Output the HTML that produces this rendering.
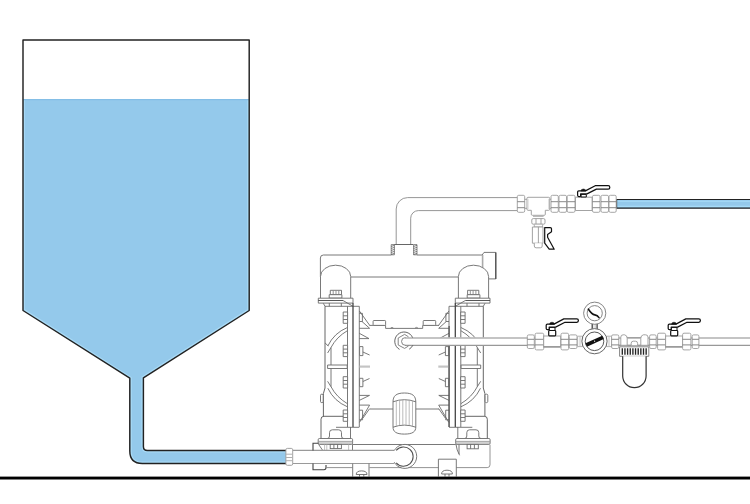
<!DOCTYPE html>
<html><head><meta charset="utf-8"><title>Diaphragm pump installation</title>
<style>
html,body{margin:0;padding:0;background:#fff;width:750px;height:504px;overflow:hidden;}
svg{display:block;}
</style></head><body>
<svg width="750" height="504" viewBox="0 0 750 504">
<defs>
  <g id="handle">
    <path d="M3.2,5.6 H1.2 Q0,5.6 0,4.4 V1.2 Q0,0 1.2,0 H7.8 L17.6,-5.2 H30.6 Q32.2,-5.2 32.2,-3.5 Q32.2,-1.8 30.6,-1.8 H18.8 L9.4,3 H3 V5.6" fill="#fff" stroke="#111" stroke-width="1.25" stroke-linejoin="round"/>
    <path d="M3.4,0.2 Q3.4,-1.9 5.8,-1.9 Q8.2,-1.9 8.2,0.2 Z" fill="#111" stroke="#111" stroke-width="0.5"/>
  </g>
  <!-- small bolt on the chamber strip (vertical) -->
  <g id="sbolt">
    <rect x="0" y="0" width="4.4" height="11.3" fill="#fff"/>
    <path d="M0,3.8 H4.4 M0,7.5 H4.4"/>
  </g>
  <g id="dome" fill="none" stroke="#6a6a6a" stroke-width="0.9" stroke-linejoin="round">
    <path d="M320.5,298.2 V276.5 A15.1,11.3 0 0 1 350.7,276.5 V298.2" fill="#fff"/>
    <rect x="330.3" y="290.3" width="11.2" height="4.4" fill="#fff"/>
    <path d="M333.2,290.3 V294.7 M336,290.3 V294.7 M338.8,290.3 V294.7" stroke="#888"/>
    <rect x="329.2" y="294.7" width="12.7" height="3.4" fill="#fff"/>
  </g>
  <!-- left pump chamber (mirrored for right) -->
  <g id="chamber" fill="none" stroke="#6a6a6a" stroke-width="0.9" stroke-linejoin="round">
    <!-- upper flange -->
    <rect x="318.3" y="298.2" width="34.7" height="4.9" fill="#fff"/>
    <path d="M318.3,300.5 H343" stroke="#444"/>
    <path d="M343,300.5 L353,306.3"/>
    <path d="M323.3,303.3 L325,306.3 H359.3 M329.3,303.1 V306.3 M341.3,303.1 V306.3"/>
    <!-- chamber body -->
    <path d="M325,306.3 V388 L323.4,393.5 V416.5" stroke="#555"/>
    <path d="M347.5,306.3 V427"/>
    <path d="M359.3,306.3 V427"/>
    <path d="M353,303.1 V427" stroke="#444" stroke-width="1.3"/>
    <!-- bolts on strip -->
    <use href="#sbolt" x="343.2" y="312"/>
    <use href="#sbolt" x="343.2" y="345.3"/>
    <use href="#sbolt" x="343.2" y="376.7"/>
    <use href="#sbolt" x="343.2" y="410"/>
    <!-- diaphragm arcs -->
    <path d="M347.4,327.5 Q334,333 327.8,346"/>
    <path d="M347.4,330.7 Q336.5,337 331,347.5 L327.6,353"/>
    <path d="M325.1,343 L328.3,346"/>
    <path d="M331,347.5 V386.7"/>
    <path d="M327.6,381.3 L331,386.7 Q336.5,397.2 347.4,403.7"/>
    <path d="M327.8,388.2 Q334,401.2 347.4,406.8"/>
    <!-- rod -->
    <rect x="327.6" y="365" width="19.6" height="3.5" fill="#fff"/>
    <!-- small pill -->
    <rect x="320.5" y="394.2" width="2.7" height="8.4" rx="1.2" fill="#fff"/>
    <!-- foot -->
    <path d="M321,438.5 V419.2 Q321,416.3 323.9,416.3 H343.2" stroke="#555"/>
    <path d="M336,427.3 H359.3"/>
    <path d="M350.5,427 V438.5"/>
    <path d="M327.3,438.5 Q329.5,438.5 329.5,436 V432.6 Q329.5,429.8 332.3,429.8 H338.7 Q341.5,429.8 341.5,432.6 V436 Q341.5,438.5 343.7,438.5"/>
    <!-- lower flange -->
    <rect x="318.2" y="438.5" width="34.4" height="5.9" rx="1.2" fill="#fff"/>
    <path d="M318.2,441.4 H352.6 M318.2,443 H352.6" stroke="#999"/>
    <!-- fins -->
    <path d="M359.4,311 L369.8,325.5 M359.3,328.3 H369.6 L362,321.5 M359.3,313.3 H362.4 V321.5 H359.3"/>
    <path d="M359.3,333.3 L369,338.6 H359.3"/>
    <rect x="359.6" y="346.6" width="3.3" height="9" fill="#fff"/>
    <path d="M362.9,352 L369.6,355"/>
    <path d="M359.6,366.6 H370" stroke="#c4c4c4" stroke-width="2.2"/>
    <rect x="359.6" y="378.3" width="3.3" height="8.4" fill="#fff"/>
    <path d="M362.9,381.5 L369.5,378.5"/>
    <path d="M359.3,400.4 L369.5,395.4 H359.3"/>
    <path d="M359.5,422.4 L369.6,405.1 H359.3 M369.6,408.7 L363,418 M359.3,410.2 H362.6 V419.8 H359.3"/>
  </g>
</defs>

<!-- ============ TANK ============ -->
<clipPath id="wclip"><path d="M23,99 H249.2 V310.5 L143.4,377.8 V447 Q143.4,450.5 147,450.5 H286 V463.5 H142.3 Q129.8,463.5 129.8,451 V378.2 L23,310.5 Z"/></clipPath>
<path d="M23,99 H249.2 V310.5 L143.4,377.8 V447 Q143.4,450.5 147,450.5 H286 V463.5 H142.3 Q129.8,463.5 129.8,451 V378.2 L23,310.5 Z" fill="#94C9EB"/>
<path d="M286,463.5 H142.3 Q129.8,463.5 129.8,451 V378.2 L23,310.5 V39.9 H249.2 V310.5 L143.4,377.8 V446.5 Q143.4,450.5 147.4,450.5 H286" fill="none" stroke="#a8daf6" stroke-width="3.9" clip-path="url(#wclip)"/>
<line x1="23.5" y1="99.6" x2="248.7" y2="99.6" stroke="#84BEE6" stroke-width="1.2"/>
<g fill="none" stroke="#222" stroke-width="1.45" stroke-linejoin="round">
  <path d="M286,463.5 H142.3 Q129.8,463.5 129.8,451 V378.2 L23,310.5 V39.9 H249.2 V310.5 L143.4,377.8 V446.5 Q143.4,450.5 147.4,450.5 H286"/>
</g>

<!-- floor -->
<rect x="0" y="476.6" width="750" height="2.9" fill="#000"/>

<!-- discharge blue hose -->
<rect x="616.5" y="199.3" width="134" height="9" fill="#94C9EB"/>
<path d="M617.5,201.3 H750 M617.5,206.4 H750" stroke="#a6dcf8" stroke-width="1.1"/>
<path d="M750,199.5 H616.6 V208.1 H750" fill="none" stroke="#222" stroke-width="1.1"/>

<!-- ============ PUMP ============ -->
<g id="pump" fill="none" stroke="#6a6a6a" stroke-width="0.9" stroke-linejoin="round">
  <!-- discharge pipe from manifold up and right -->
  <path d="M396.2,244.4 V209 A11.4,11.4 0 0 1 407.6,197.6 H517.5" stroke="#8a8a8a"/>
  <path d="M410.7,244.4 V218.2 A7.6,7.6 0 0 1 418.3,210.6 H517.5" stroke="#8a8a8a"/>
  <!-- threaded fitting -->
  <path d="M394.2,244.5 H413.3" stroke="#555"/>
  <g stroke="#555" stroke-width="0.7">
    <rect x="391.2" y="244.6" width="3.2" height="10.2" fill="#fff"/>
    <rect x="413.6" y="244.6" width="3.4" height="10.2" fill="#fff"/>
    <path d="M391.2,246.5 l3.2,-1.2 M391.2,248.5 l3.2,-1.2 M391.2,250.5 l3.2,-1.2 M391.2,252.5 l3.2,-1.2 M391.2,254.5 l3.2,-1.2"/>
    <path d="M413.6,246.5 l3.4,-1.2 M413.6,248.5 l3.4,-1.2 M413.6,250.5 l3.4,-1.2 M413.6,252.5 l3.4,-1.2 M413.6,254.5 l3.4,-1.2"/>
  </g>
  <!-- manifold -->
  <path d="M320.4,277 V258 Q320.4,255 323.4,255 H391.2"/>
  <path d="M417,255 H482.2"/>
  <path d="M350.9,277 H458.3"/>
  <!-- outlet fitting on manifold right -->
  <path d="M482.2,255 L484,252.4 H495.8 V278.9 H488.8" fill="#fff"/>
  <path d="M482.6,255 V267.5" stroke="#aaa" stroke-width="1.6"/>
  <path d="M495.8,252.4 V278.9" stroke="#444" stroke-width="1.1"/>
</g>
<use href="#dome"/>
<use href="#dome" transform="matrix(-1,0,0,1,809.1,0)"/>
<use href="#chamber"/>
<use href="#chamber" transform="matrix(-1,0,0,1,808.3,0)"/>
<path d="M449.1,326 V427" stroke="#4a4a4a" stroke-width="1.1"/>
<g fill="none" stroke="#6a6a6a" stroke-width="0.9">
  <!-- left: below flange -->
  <path d="M318.6,444.4 L322.7,450.4 M352.5,444.4 V450.4"/>
  <rect x="330.2" y="444.4" width="11.2" height="4.2" fill="#fff"/>
  <path d="M333.9,444.4 V448.6 M337.6,444.4 V448.6"/>
  <path d="M324.6,444.6 V450.2 M326.8,444.6 V450.2 M348.6,444.6 V450.2" stroke="#bbb"/>
  <!-- right: below flange -->
  <path d="M456,444.4 Q456.6,450 459.6,455.3 M459,444.6 V454" />
  <rect x="467.1" y="444.4" width="11.2" height="4.4" fill="#fff"/>
  <path d="M470.6,444.4 V448.8 M474.4,444.4 V448.8"/>
</g>


<g fill="none" stroke="#6a6a6a" stroke-width="0.9" stroke-linejoin="round">
  <!-- centre body top -->
  <path d="M369.4,325.4 H385.6 V328.4 H422.7 V325.4 H439.1"/>
  <rect x="373.1" y="320.5" width="12.5" height="4.9" rx="0.8" fill="#fff"/>
  <rect x="423.2" y="320.5" width="12.5" height="4.9" rx="0.8" fill="#fff"/>
  <path d="M390.5,328.2 q1.5,-1.6 3,0 M415,328.2 q1.5,-1.6 3,0" stroke="#777"/>
  <!-- centre body bottom -->
  <path d="M369.8,409 H393.6 M415,409 H439"/>
  <!-- cylinder (air valve) -->
  <path d="M393,402 C393,396 396,393 404.4,393 C412.8,393 415.8,396 415.8,402 V427 C415.8,431.6 412.8,434.1 404.4,434.1 C396,434.1 393,431.6 393,427 Z" fill="#fff"/>
  <path d="M393,401.8 Q404.4,397.6 415.8,401.8 M393,427.2 Q404.4,423 415.8,427.2"/>
  <path d="M396.3,400.6 V426 M399.6,399.9 V425.3 M402.8,399.6 V425 M406,399.6 V425 M409.2,399.9 V425.3 M412.5,400.6 V426" stroke="#aaa" stroke-width="0.8"/>
</g>

<!-- ============ DISCHARGE LINE FITTINGS ============ -->
<g fill="none" stroke="#999" stroke-width="0.9" stroke-linejoin="round">
<rect x="517.3" y="195.3" width="7.4" height="17.0" rx="1.4" fill="#fff" stroke="#9c9c9c"/><path d="M517.3,201.7 H524.7 M517.3,207.7 H524.7" stroke="#7c7c7c"/>
<path d="M524.7,199.3 H527 M524.7,208.3 H527 M549.7,199.3 H551 M549.7,208.3 H551"/>
<path d="M527,198.3 Q527,197.3 528,197.3 H548.7 Q549.7,197.3 549.7,198.3 V209.3 Q549.7,210.3 548.7,210.3 H545.3 V214.3 Q545.3,215.3 544.3,215.3 H532.3 Q531.3,215.3 531.3,214.3 V210.3 H528 Q527,210.3 527,209.3 Z" fill="#fff"/>
<path d="M528.2,198.8 V209 M548.5,198.8 V209" stroke="#ddd"/><path d="M533,216.4 H543.6" stroke="#aaa"/>
<rect x="531.8" y="218.6" width="13.2" height="5.6" rx="1.4" fill="#fff"/>
<path d="M536,218.6 V224.2 M541,218.6 V224.2"/>
<rect x="534.3" y="224.2" width="8.3" height="2.8" fill="#fff" stroke="#aaa"/>
<rect x="532.4" y="227" width="10.6" height="16.2" fill="#fff"/>
<path d="M538.4,227 V243.2"/>
<path d="M534.3,243.2 V246 Q534.3,247.8 536.1,247.8 H540.4 Q542.2,247.8 542.2,246 V243.2" fill="#fff"/>
<path d="M544.7,227.6 H550.3 Q551.5,227.6 551.5,228.8 V231.8 L547.6,234.6 V237.3 L554.2,249.2 H549.2 L544.7,243.2 Z" fill="#fff" stroke="#111" stroke-width="1.2"/>
<rect x="551" y="195.3" width="7.3" height="17.0" rx="1.4" fill="#fff" stroke="#9c9c9c"/><path d="M551,201.7 H558.3 M551,207.7 H558.3" stroke="#7c7c7c"/>
<rect x="559" y="195.3" width="7.5" height="17.0" rx="1.4" fill="#fff" stroke="#9c9c9c"/><path d="M559,201.7 H566.5 M559,207.7 H566.5" stroke="#7c7c7c"/>
<rect x="567.2" y="195.3" width="7.8" height="17.0" rx="1.4" fill="#fff" stroke="#9c9c9c"/><path d="M567.2,201.7 H575 M567.2,207.7 H575" stroke="#7c7c7c"/>
<rect x="575.5" y="197.2" width="16.6" height="13.3" fill="#fff"/>
<rect x="581" y="194.4" width="5.3" height="2.6" fill="#fff" stroke="#111" stroke-width="1"/>
<use href="#handle" x="577.6" y="190.9"/>
<rect x="592.5" y="195.3" width="7.5" height="17.0" rx="1.4" fill="#fff" stroke="#9c9c9c"/><path d="M592.5,201.7 H600 M592.5,207.7 H600" stroke="#7c7c7c"/>
<rect x="601" y="195.3" width="7.5" height="17.0" rx="1.4" fill="#fff" stroke="#9c9c9c"/><path d="M601,201.7 H608.5 M601,207.7 H608.5" stroke="#7c7c7c"/>
<rect x="609" y="195.3" width="7.2" height="17.0" rx="1.4" fill="#fff" stroke="#9c9c9c"/><path d="M609,201.7 H616.2 M609,207.7 H616.2" stroke="#7c7c7c"/>
</g>

<!-- air supply line -->
<g fill="none" stroke="#6a6a6a" stroke-width="0.9">
  <rect x="403" y="337.6" width="347" height="7.7" fill="#fff" stroke="none"/>
  <path d="M405,337.9 H750" stroke="#b0b0b0" stroke-width="1.5"/><path d="M405,345.4 H750" stroke="#989898" stroke-width="1.15"/>
  <path d="M399.5,349.4 A9.3,9.3 0 1 1 412.6,337.6" stroke="#555"/>
  <path d="M409.2,349.2 A9.3,9.3 0 0 0 412.8,345.3" stroke="#555"/>
  <path d="M408.5,336.8 L404.6,334.4 L398.2,338 V345 L404.6,348.4 L408.5,346" stroke="#777"/>
  <path d="M405.4,337.6 A3.85,3.85 0 0 0 405.4,345.3" stroke="#777"/>
</g>

<!-- ============ AIR LINE FITTINGS ============ -->
<g fill="none" stroke="#999" stroke-width="0.9" stroke-linejoin="round">
<rect x="527.3" y="334.9" width="7.0" height="13.6" rx="1.4" fill="#fff" stroke="#9c9c9c"/><path d="M527.3,339.3 H534.3 M527.3,344.9 H534.3" stroke="#7c7c7c"/>
<rect x="535.1" y="333.2" width="8.6" height="16.7" rx="1.4" fill="#fff" stroke="#9c9c9c"/><path d="M535.1,339.3 H543.7 M535.1,344.9 H543.7" stroke="#7c7c7c"/>
<rect x="543.7" y="336" width="17" height="10.9" fill="#fff"/>
<path d="M543.7,346.9 H560.7" stroke="#888" stroke-width="1.2"/>
<rect x="548.7" y="330.5" width="7" height="5.4" rx="0.8" fill="#fff" stroke="#111" stroke-width="1.2"/>
<rect x="549.4" y="327.3" width="5.6" height="3.2" fill="#fff" stroke="#111" stroke-width="1"/>
<use href="#handle" x="546.2" y="324.1"/>
<rect x="561" y="333.2" width="7.6" height="16.7" rx="1.4" fill="#fff" stroke="#9c9c9c"/><path d="M561,339.3 H568.6 M561,344.9 H568.6" stroke="#7c7c7c"/>
<rect x="569.2" y="334.9" width="7.8" height="13.6" rx="1.4" fill="#fff" stroke="#9c9c9c"/><path d="M569.2,339.3 H577 M569.2,344.9 H577" stroke="#7c7c7c"/>
<rect x="577.6" y="336.2" width="4.8" height="10.4" fill="#fff" stroke="#aaa"/>
<path d="M580,336.2 V346.6" stroke="#bbb"/>
<rect x="606.6" y="336.2" width="5" height="10.4" fill="#fff" stroke="#aaa"/>
<path d="M609,336.2 V346.6" stroke="#bbb"/>
<rect x="591.8" y="323.5" width="5.7" height="5.5" fill="#fff" stroke="none"/>
<path d="M592.2,323.5 V329 M597.1,323.5 V329" stroke="#333" stroke-width="1.2"/>
<path d="M594,324 V328.6 M595.4,324 V328.6" stroke="#ccc"/>
<circle cx="594.5" cy="341.2" r="12.6" fill="#fff" stroke="#555"/>
<circle cx="594.5" cy="341.3" r="9.3" stroke="#444"/>
<path d="M586.2,345 L603,337.4" stroke="#111" stroke-width="3.7" stroke-linecap="butt"/>
<circle cx="594.6" cy="341.2" r="0.6" fill="#fff" stroke="none"/>
<circle cx="594.7" cy="313.2" r="11.1" fill="#fff" stroke="#777"/>
<circle cx="594.7" cy="313.2" r="7.6" stroke="#777"/>
<path d="M588.4,309.2 C590.5,312.3 592.5,314.4 594.8,314.9 C597,315.4 597.6,315.6 599,317.6" stroke="#111" stroke-width="1.6" stroke-linecap="round"/>
<rect x="611.6" y="334.9" width="7.2" height="13.6" rx="1.4" fill="#fff" stroke="#9c9c9c"/><path d="M611.6,339.3 H618.8 M611.6,344.9 H618.8" stroke="#7c7c7c"/>
<path d="M620.8,345.4 V337.2 Q620.8,334.8 623.2,334.8 H624.6 Q627.2,335.4 627.2,338.2 V345.4" fill="#fff"/>
<path d="M640.8,345.4 V338.2 Q640.8,335.4 643.4,334.8 H645.6 Q648,334.8 648,337.2 V345.4" fill="#fff"/>
<path d="M627.2,337.6 H640.8 M618.8,345.3 H649.6"/>
<path d="M631.2,345.3 V343.3 Q631.2,341.2 633.3,341.2 H635.5 Q637.6,341.2 637.6,343.3 V345.3" fill="#fff"/>
<rect x="619.6" y="346.8" width="29.2" height="9.5" fill="#fff" stroke="#777"/>
<path d="M622.30,348.3 V354.8 M624.95,348.3 V354.8 M627.60,348.3 V354.8 M630.25,348.3 V354.8 M632.90,348.3 V354.8 M635.55,348.3 V354.8 M638.20,348.3 V354.8 M640.85,348.3 V354.8 M643.50,348.3 V354.8 M646.15,348.3 V354.8" stroke="#222" stroke-width="1.35"/>
<path d="M622.7,356.3 V376 A11.7,11.7 0 0 0 646.1,376 V356.3" fill="#fff" stroke="#333" stroke-width="1.2"/>
<rect x="649.6" y="334.9" width="6.6" height="13.6" rx="1.4" fill="#fff" stroke="#9c9c9c"/><path d="M649.6,339.3 H656.2 M649.6,344.9 H656.2" stroke="#7c7c7c"/>
<rect x="657.6" y="333.2" width="8.0" height="16.7" rx="1.4" fill="#fff" stroke="#9c9c9c"/><path d="M657.6,339.3 H665.6 M657.6,344.9 H665.6" stroke="#7c7c7c"/>
<rect x="665.6" y="336" width="17" height="10.9" fill="#fff"/>
<path d="M665.6,346.9 H682.6" stroke="#888" stroke-width="1.2"/>
<rect x="670.7" y="330.5" width="7" height="5.4" rx="0.8" fill="#fff" stroke="#111" stroke-width="1.2"/>
<rect x="671.4" y="327.3" width="5.6" height="3.2" fill="#fff" stroke="#111" stroke-width="1"/>
<use href="#handle" x="668.2" y="324.1"/>
<rect x="682.6" y="333.2" width="8.3" height="16.7" rx="1.4" fill="#fff" stroke="#9c9c9c"/><path d="M682.6,339.3 H690.9 M682.6,344.9 H690.9" stroke="#7c7c7c"/>
<rect x="692.2" y="334.9" width="6.7" height="13.6" rx="1.4" fill="#fff" stroke="#9c9c9c"/><path d="M692.2,339.3 H698.9 M692.2,344.9 H698.9" stroke="#7c7c7c"/>
</g>

<!-- bottom suction manifold -->
<g fill="none" stroke="#6a6a6a" stroke-width="0.9">
  <path d="M352.5,444.5 H455.8" />
  <path d="M292.5,450.4 H394.2 M292.5,463.5 H394.2" stroke="#9a9a9a" stroke-width="1.1"/>
  <path d="M326.7,467.6 H352.5 M369.5,467.6 H438.4 M456.3,467.6 H487.2 Q490,467.6 490,464.8 V444.7" stroke="#888"/>
  <!-- elbow rings -->
  <path d="M394.2,450.6 A12,12 0 1 1 394.2,462.2" fill="#fff"/>
  <path d="M396.2,450.4 A9.6,9.6 0 1 1 396.2,462.8" stroke="#505050" stroke-width="1.05"/>
  <!-- inlet flange -->
  <path d="M313,450.4 V443.2 H318.5" stroke="#444" stroke-width="1.1"/>
  <path d="M313,463.6 V469.7 H324 Q326,469.7 326,467.6 V465" stroke="#444" stroke-width="1.1"/>
  <!-- feet -->
  <path d="M352.7,463.6 V477 M369,463.6 V477"/>
  <path d="M438.4,477 V459.2 H456.3 V477"/>
  <path d="M356.2,474.5 q0,-3.6 5.4,-3.6 q5.4,0 5.4,3.6 z M359.5,474.5 V477 M363.8,474.5 V477" fill="#fff"/>
  <path d="M441.6,474 q0,-3.8 5.4,-3.8 q5.4,0 5.4,3.8 z M445,474 V477 M449,474 V477" fill="#fff"/>
<!-- connector nut on hose -->
  <rect x="285.9" y="448.4" width="6.8" height="16.9" rx="1.4" fill="#fff" stroke="#999"/>
  <path d="M286,454.2 H292.6 M286,457.5 H292.6 M286,460.7 H292.6" stroke="#b0b0b0" stroke-width="1"/>
</g>

</svg>
</body></html>
